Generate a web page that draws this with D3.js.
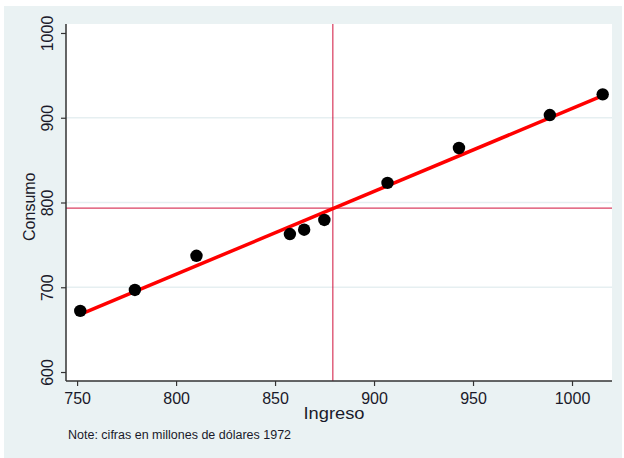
<!DOCTYPE html>
<html>
<head>
<meta charset="utf-8">
<script src="https://cdn.jsdelivr.net/npm/d3@7"></script>
<style>
  body { margin: 0; background: #fff; }
  text { font-family: Arial, "Liberation Sans", sans-serif; fill: #1a1a2a; }
</style>
</head>
<body>
<div id="chart"></div>
<script>
// data: ingreso vs consumo (millones de dolares 1972)
var ingreso = [751.6, 779.2, 810.3, 864.7, 857.5, 874.9, 906.8, 942.9, 988.8, 1015.5];
var consumo = [672.1, 696.8, 737.1, 767.9, 762.8, 779.4, 823.1, 864.3, 903.2, 927.6];
// fitted line endpoints
var fitX = [751.6, 1015.5];
var fitY = [668, 926];
// mean lines
var meanIngreso = 879.2;
var meanConsumo = 793.4;
var xTicks = [750, 800, 850, 900, 950, 1000];
var yTicks = [600, 700, 800, 900, 1000];

var svgWidth = 624;
var svgHeight = 458;

var margin = { top: 24, right: 12, bottom: 77, left: 66 };
var width = svgWidth - margin.left - margin.right;
var height = svgHeight - margin.top - margin.bottom;

var svg = d3.select("#chart")
  .append("svg")
  .attr("width", svgWidth)
  .attr("height", svgHeight);

// outer background
svg.append("rect")
  .attr("x", 4).attr("y", 6)
  .attr("width", 618).attr("height", 452)
  .attr("fill", "#eaf2f3");

var chartGroup = svg.append("g")
  .attr("transform", `translate(${margin.left}, ${margin.top})`);

chartGroup.append("rect")
  .attr("width", width)
  .attr("height", height)
  .attr("fill", "#fff");

var xScale = d3.scaleLinear()
  .domain([744.4, 1020.2])
  .range([0, width]);

var yScale = d3.scaleLinear()
  .domain([589.4, 1010.6])
  .range([height, 0]);

// grid lines
chartGroup.selectAll(".grid")
  .data(yTicks.filter(d => d > 600 && d < 1000))
  .enter()
  .append("line")
  .attr("x1", 0)
  .attr("x2", width)
  .attr("y1", d => yScale(d))
  .attr("y2", d => yScale(d))
  .attr("stroke", "#e6eff1")
  .attr("stroke-width", 1.4);

// mean lines
chartGroup.append("line")
  .attr("x1", xScale(meanIngreso)).attr("x2", xScale(meanIngreso))
  .attr("y1", 0).attr("y2", height)
  .attr("stroke", "#d0103a")
  .attr("stroke-width", 1);

chartGroup.append("line")
  .attr("x1", 0).attr("x2", width)
  .attr("y1", yScale(meanConsumo)).attr("y2", yScale(meanConsumo))
  .attr("stroke", "#d0103a")
  .attr("stroke-width", 1);

// fitted line
chartGroup.append("line")
  .attr("x1", xScale(fitX[0])).attr("y1", yScale(fitY[0]))
  .attr("x2", xScale(fitX[1])).attr("y2", yScale(fitY[1]))
  .attr("stroke", "#ff0000")
  .attr("stroke-width", 3.5);

// points
chartGroup.selectAll("circle")
  .data(ingreso)
  .enter()
  .append("circle")
  .attr("cx", d => xScale(d))
  .attr("cy", (d, i) => yScale(consumo[i]))
  .attr("r", 6.2)
  .attr("fill", "#000");

// axes
var bottomAxis = d3.axisBottom(xScale).tickValues(xTicks).tickFormat(d3.format("d")).tickSize(5).tickPadding(4);
var leftAxis = d3.axisLeft(yScale).tickValues(yTicks).tickFormat(d3.format("d")).tickSize(5).tickPadding(4);

var xAxis = chartGroup.append("g")
  .attr("transform", `translate(0, ${height})`)
  .call(bottomAxis);

var yAxis = chartGroup.append("g")
  .call(leftAxis);

[xAxis, yAxis].forEach(function(ax) {
  ax.select(".domain").attr("stroke", "#333").attr("stroke-width", 1.5)
    .attr("d", ax === xAxis ? `M0,0H${width}` : `M0,0V${height}`);
  ax.selectAll(".tick line").attr("stroke", "#333").attr("stroke-width", 1.2);
  ax.selectAll("text")
    .attr("font-size", 16)
    .attr("fill", "#1a1a2a")
    .attr("font-family", "Arial, 'Liberation Sans', sans-serif");
});

xAxis.selectAll(".tick text").attr("dy", "0.9em");

// rotate y tick labels
yAxis.selectAll(".tick text")
  .attr("text-anchor", "middle")
  .attr("x", 0)
  .attr("dy", 0)
  .attr("transform", "translate(-13.5,0) rotate(-90)");

// axis titles
chartGroup.append("text")
  .attr("x", width / 2 - 5)
  .attr("y", height + 38)
  .attr("text-anchor", "middle")
  .attr("font-size", 16)
  .attr("textLength", 61)
  .attr("lengthAdjust", "spacingAndGlyphs")
  .text("Ingreso");

chartGroup.append("text")
  .attr("transform", `translate(${35 - margin.left}, ${yScale(795)}) rotate(-90)`)
  .attr("text-anchor", "middle")
  .attr("font-size", 16)
  .text("Consumo");

svg.append("text")
  .attr("x", 68)
  .attr("y", 439)
  .attr("font-size", 12.5)
  .text("Note: cifras en millones de dólares 1972");
</script>
</body>
</html>
